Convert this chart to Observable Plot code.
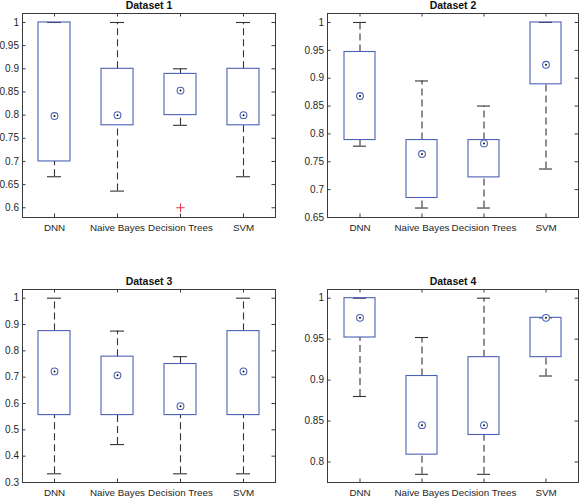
<!DOCTYPE html>
<html>
<head>
<meta charset="utf-8">
<script src="https://cdn.jsdelivr.net/npm/d3@7"></script>
<script src="https://cdn.jsdelivr.net/npm/@observablehq/plot@0.6"></script>
<style>
  body { margin: 0; background: white; }
  #wrap { position: relative; width: 582px; height: 499px; background: white; }
  #wrap > div { position: absolute; }
</style>
</head>
<body>
<div id="wrap">
  <div id="p1" style="left:0;top:0"></div>
  <div id="p2" style="left:291px;top:0"></div>
  <div id="p3" style="left:0;top:250px"></div>
  <div id="p4" style="left:291px;top:250px"></div>
</div>
<script>
const categories = ["DNN", "Naive Bayes", "Decision Trees", "SVM"];
const titles = ["Dataset 1", "Dataset 2", "Dataset 3", "Dataset 4"];

// Dataset 1
const lower1  = [0.667, 0.636, 0.778, 0.667];
const q1_1    = [0.700, 0.778, 0.800, 0.778];
const median1 = [0.798, 0.800, 0.853, 0.800];
const q3_1    = [1.000, 0.900, 0.889, 0.900];
const upper1  = [1.000, 1.000, 0.900, 1.000];
const outliers1 = [{cat: "Decision Trees", value: 0.6}];
const yTicks1 = [0.6, 0.65, 0.7, 0.75, 0.8, 0.85, 0.9, 0.95, 1];
const yLimits1 = [0.579, 1.0194];

// Dataset 2
const lower2  = [0.778, 0.667, 0.667, 0.737];
const q1_2    = [0.789, 0.685, 0.722, 0.889];
const median2 = [0.868, 0.764, 0.783, 0.924];
const q3_2    = [0.947, 0.789, 0.789, 1.000];
const upper2  = [1.000, 0.895, 0.850, 1.000];
const outliers2 = [];
const yTicks2 = [0.65, 0.7, 0.75, 0.8, 0.85, 0.9, 0.95, 1];
const yLimits2 = [0.65, 1.0161];

// Dataset 3
const lower3  = [0.333, 0.444, 0.333, 0.333];
const q1_3    = [0.556, 0.556, 0.556, 0.556];
const median3 = [0.722, 0.707, 0.590, 0.722];
const q3_3    = [0.875, 0.778, 0.750, 0.875];
const upper3  = [1.000, 0.875, 0.778, 1.000];
const outliers3 = [];
const yTicks3 = [0.3, 0.4, 0.5, 0.6, 0.7, 0.8, 0.9, 1];
const yLimits3 = [0.3, 1.033];

// Dataset 4
const lower4  = [0.880, 0.785, 0.785, 0.905];
const q1_4    = [0.952, 0.809, 0.833, 0.928];
const median4 = [0.976, 0.845, 0.845, 0.976];
const q3_4    = [1.000, 0.905, 0.928, 0.976];
const upper4  = [1.000, 0.952, 1.000, 0.976];
const outliers4 = [];
const yTicks4 = [0.8, 0.85, 0.9, 0.95, 1];
const yLimits4 = [0.775, 1.0106];

const BLUE = "#4b61b3";
const INK = "#262626";
const FRAME = "#3a3a3a";

function panel(title, lower, q1, med, q3, upper, outliers, yTicks, yLimits, layout) {
  const rows = categories.map((c, i) => ({cat: c, lo: lower[i], q1: q1[i], med: med[i], q3: q3[i], hi: upper[i]}));
  const {width, height, ml, mr, mt, mb} = layout;
  const fw = width - ml - mr, fh = height - mt - mb;
  const tk = 3.5;
  return Plot.plot({
    width, height,
    marginLeft: ml, marginRight: mr, marginTop: mt, marginBottom: mb,
    style: {fontFamily: "'Liberation Sans', Arial, Helvetica, sans-serif", fontSize: "10px", color: INK, background: "white"},
    x: {type: "band", domain: categories, paddingInner: 0.5, paddingOuter: 0.25},
    y: {domain: yLimits},
    marks: [
      Plot.frame({stroke: FRAME, strokeWidth: 1}),
      // inward ticks
      Plot.tickY(yTicks, {y: d => d, insetRight: fw - tk, stroke: FRAME}),
      Plot.tickY(yTicks, {y: d => d, insetLeft: fw - tk, stroke: FRAME}),
      Plot.tickX(categories, {x: d => d, insetTop: fh - tk, stroke: FRAME}),
      Plot.tickX(categories, {x: d => d, insetBottom: fh - tk, stroke: FRAME}),
      Plot.axisY({ticks: yTicks, tickSize: 0, tickPadding: 3.5, tickFormat: d3.format("~g"), label: null, fontSize: 10}),
      Plot.axisX({tickSize: 0, tickPadding: 6.5, label: null, fontSize: 9.8}),
      // whiskers
      Plot.ruleX(rows, {x: "cat", y1: "q3", y2: "hi", stroke: "#333", strokeDasharray: "7,4", strokeWidth: 1.1}),
      Plot.ruleX(rows, {x: "cat", y1: "lo", y2: "q1", stroke: "#333", strokeDasharray: "7,4", strokeWidth: 1.1}),
      Plot.tickY(rows, {x: "cat", y: "hi", insetLeft: 9, insetRight: 9, stroke: "#333", strokeWidth: 1.1}),
      Plot.tickY(rows, {x: "cat", y: "lo", insetLeft: 9, insetRight: 9, stroke: "#333", strokeWidth: 1.1}),
      // boxes
      Plot.barY(rows, {x: "cat", y1: "q1", y2: "q3", fill: "none", stroke: BLUE, strokeWidth: 1.1}),
      // medians
      Plot.dot(rows, {x: "cat", y: "med", r: 3.4, stroke: BLUE, strokeWidth: 1.1, fill: "white"}),
      Plot.dot(rows, {x: "cat", y: "med", r: 1, fill: "#111", stroke: null}),
      // outliers
      Plot.dot(outliers, {x: "cat", y: "value", symbol: "plus", r: 2.8, stroke: "#e03a45", strokeWidth: 1.1}),
      // title
      Plot.text([title], {frameAnchor: "top", lineAnchor: "bottom", dy: -5, fontWeight: "bold", fontSize: 10.5, fill: "#111"})
    ]
  });
}

const topRow = {width: 291, height: 250, mt: 13, mb: 33};
const botRow = {width: 291, height: 249, mt: 39, mb: 17};
document.getElementById("p1").append(panel(titles[0], lower1, q1_1, median1, q3_1, upper1, outliers1, yTicks1, yLimits1, {...topRow, ml: 22, mr: 16}));
document.getElementById("p2").append(panel(titles[1], lower2, q1_2, median2, q3_2, upper2, outliers2, yTicks2, yLimits2, {...topRow, ml: 36, mr: 4}));
document.getElementById("p3").append(panel(titles[2], lower3, q1_3, median3, q3_3, upper3, outliers3, yTicks3, yLimits3, {...botRow, ml: 22, mr: 16}));
document.getElementById("p4").append(panel(titles[3], lower4, q1_4, median4, q3_4, upper4, outliers4, yTicks4, yLimits4, {...botRow, ml: 36, mr: 4}));
</script>
</body>
</html>
